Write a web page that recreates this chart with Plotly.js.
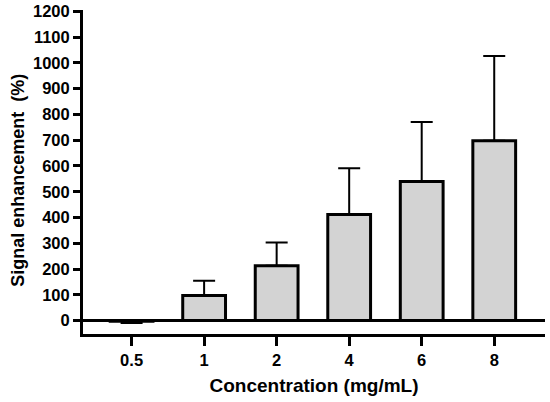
<!DOCTYPE html>
<html>
<head>
<meta charset="utf-8">
<script src="https://cdn.plot.ly/plotly-3.0.1.min.js"></script>
<style>html,body{margin:0;padding:0;background:#fff;}#chart{width:550px;height:402px;}</style>
</head>
<body>
<div id="chart"></div>
<script>
const categories = ["0.5", "1", "2", "4", "6", "8"];
const meanValues = [-3, 97, 213, 412, 540, 698];
const errorPlus = [0, 58, 90, 179, 230, 329];
const errorMinus = [6, 0, 0, 0, 0, 0];
const yTickValues = [0, 100, 200, 300, 400, 500, 600, 700, 800, 900, 1000, 1100, 1200];
const xTitle = "Concentration (mg/mL)";
const yTitle = "Signal enhancement  (%)";

const font = "Liberation Sans, Arial, sans-serif";

const trace = {
  type: "bar",
  x: categories,
  y: meanValues,
  width: 0.59,
  marker: { color: "#d3d3d3", line: { color: "#000", width: 3 } },
  error_y: {
    type: "data",
    symmetric: false,
    array: errorPlus,
    arrayminus: errorMinus,
    color: "#000",
    thickness: 2,
    width: 11
  },
  hoverinfo: "skip"
};

const layout = {
  width: 550,
  height: 402,
  margin: { l: 83, r: 5, t: 10, b: 68 },
  paper_bgcolor: "#fff",
  plot_bgcolor: "#fff",
  showlegend: false,
  xaxis: {
    type: "category",
    range: [-0.67, 5.70],
    showline: true,
    linecolor: "#000",
    linewidth: 3,
    ticks: "outside",
    ticklen: 9,
    tickwidth: 3,
    tickcolor: "#000",
    showgrid: false,
    zeroline: false,
    tickfont: { family: font, size: 16.5, color: "#000", weight: "bold" },
    title: { text: "<b>" + xTitle + "</b>", font: { family: font, size: 19, color: "#000" }, standoff: 11 }
  },
  yaxis: {
    range: [-52, 1205],
    tickvals: yTickValues,
    ticktext: yTickValues.map(String),
    showline: true,
    linecolor: "#000",
    linewidth: 3,
    ticks: "outside",
    ticklen: 7,
    tickwidth: 3,
    tickcolor: "#000",
    showgrid: false,
    zeroline: true,
    zerolinecolor: "#000",
    zerolinewidth: 2.5,
    tickfont: { family: font, size: 16.5, color: "#000", weight: "bold" }
  },
  annotations: [{
    text: "<b>" + yTitle + "</b>",
    xref: "paper", yref: "paper",
    x: -0.1407, y: 0.476,
    xanchor: "center", yanchor: "middle",
    textangle: -90,
    showarrow: false,
    font: { family: font, size: 18, color: "#000" }
  }]
};

Plotly.newPlot("chart", [trace], layout, { displayModeBar: false, staticPlot: true });
</script>
</body>
</html>
